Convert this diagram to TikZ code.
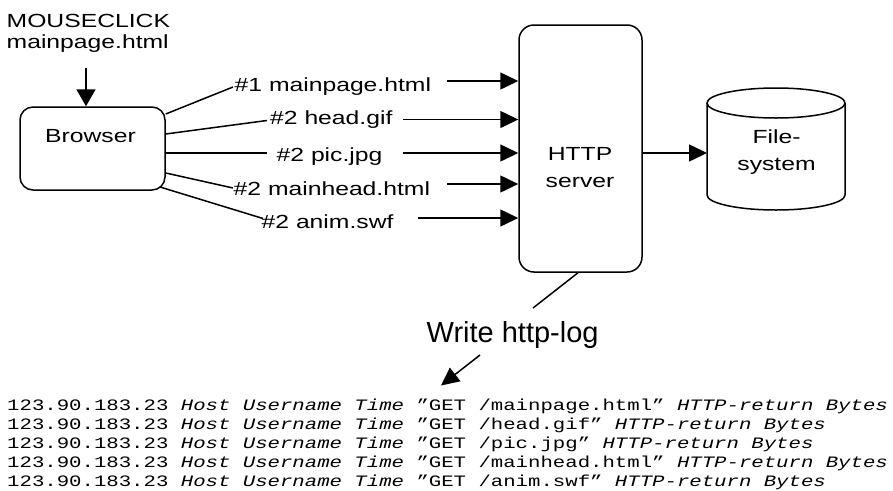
\documentclass[tikz,border=0pt]{standalone}
\usepackage{fontspec}
\setmainfont{Liberation Sans}
\newfontfamily\lblfont[FakeStretch=1.3]{Liberation Sans}
\newfontfamily\logfont[FakeStretch=1.3]{Liberation Mono}
\usetikzlibrary{arrows.meta}
\begin{document}
\begin{tikzpicture}[x=1pt,y=-1pt,
  lbl/.style={font=\lblfont\fontsize{19}{23}\selectfont, inner sep=0pt, anchor=base west},
  box/.style={draw, line width=1.5pt, rounded corners=13pt, inner sep=0pt},
  ln/.style={line width=1.5pt},
  arr/.style={line width=1.5pt, -{Triangle[length=18pt,width=17pt]}},
  logline/.style={font=\logfont\fontsize{15.9}{19}\selectfont, inner sep=0pt, anchor=base west}]
\useasboundingbox (0,0) rectangle (893,490);

% mouse click
\node[lbl] (click) at (6.5,27) {MOUSECLICK};
\node[lbl] (clickfile) at (6.5,48) {mainpage.html};
\coordinate (clickend) at (86,68);

% browser
\node[box, minimum width=145pt, minimum height=83pt] (browser) at (92.5,148.5) {};
\node[lbl, anchor=base] (browsertext) at (90.5,142) {Browser};
\draw[line width=1.5pt, -{Triangle[length=17pt,width=19pt]}] (clickend) -- (browser.north -| clickend);

% server
\node[box, rounded corners=15pt, minimum width=123pt, minimum height=247pt] (server) at (580.5,148.5) {};
\node[lbl, anchor=base] (servert1) at (580,160) {HTTP};
\node[lbl, anchor=base] (servert2) at (580,187) {server};

% file system
\draw[ln] (707,103) -- (707,195) arc[start angle=180, end angle=0, x radius=69, y radius=15] -- (845,103);
\draw[ln] (776,103) ellipse [x radius=69, y radius=15];
\node[lbl, anchor=base] (fs) at (776.5,143) {File-};
\node[lbl, anchor=base] (fs2) at (776.5,170.5) {system};
\coordinate (fsin) at (707,153);
\draw[arr] (server.east |- fsin) -- (fsin);

% requests
\node[lbl] (l1) at (234.5,91.5) {\#1 mainpage.html};
\node[lbl] (l2) at (270,124) {\#2 head.gif};
\node[lbl] (l3) at (276.5,161) {\#2 pic.jpg};
\node[lbl] (l4) at (233.5,195) {\#2 mainhead.html};
\node[lbl] (l5) at (261.5,228) {\#2 anim.swf};

\draw[ln] (browser.east |- 0,114) -- (233,87);
\draw[ln] (browser.east |- 0,134) -- (267,120.5);
\draw[ln] (browser.east |- 0,153) -- (267,153);
\draw[ln] (browser.east |- 0,173) -- (233,188);
\draw[ln] (160,187) -- (263,218.5);

\draw[arr] (447,81) -- (server.west |- 0,81);
\draw[arr] (403,119.5) -- (server.west |- 0,119.5);
\draw[arr] (403,153) -- (server.west |- 0,153);
\draw[arr] (447,184) -- (server.west |- 0,184);
\draw[arr] (418,218) -- (server.west |- 0,218);

% log
\coordinate (logend) at (533,308);
\draw[ln] ([xshift=-2.5pt]server.south) -- (logend);
\node[font=\fontsize{29}{34}\selectfont, anchor=base west, inner sep=0pt] (write) at (426.5,342) {Write http-log};
\coordinate (logtip) at (441,385.5);
\draw[arr] (480,355) -- (logtip);

\node[logline] (log1) at (7,410.5) {123.90.183.23 \textit{Host Username Time} ”GET /mainpage.html” \textit{HTTP-return Bytes}};
\node[logline] (log2) at (7,429.5) {123.90.183.23 \textit{Host Username Time} ”GET /head.gif” \textit{HTTP-return Bytes}};
\node[logline] (log3) at (7,448.5) {123.90.183.23 \textit{Host Username Time} ”GET /pic.jpg” \textit{HTTP-return Bytes}};
\node[logline] (log4) at (7,467.5) {123.90.183.23 \textit{Host Username Time} ”GET /mainhead.html” \textit{HTTP-return Bytes}};
\node[logline] (log5) at (7,486.5) {123.90.183.23 \textit{Host Username Time} ”GET /anim.swf” \textit{HTTP-return Bytes}};
\end{tikzpicture}
\end{document}
